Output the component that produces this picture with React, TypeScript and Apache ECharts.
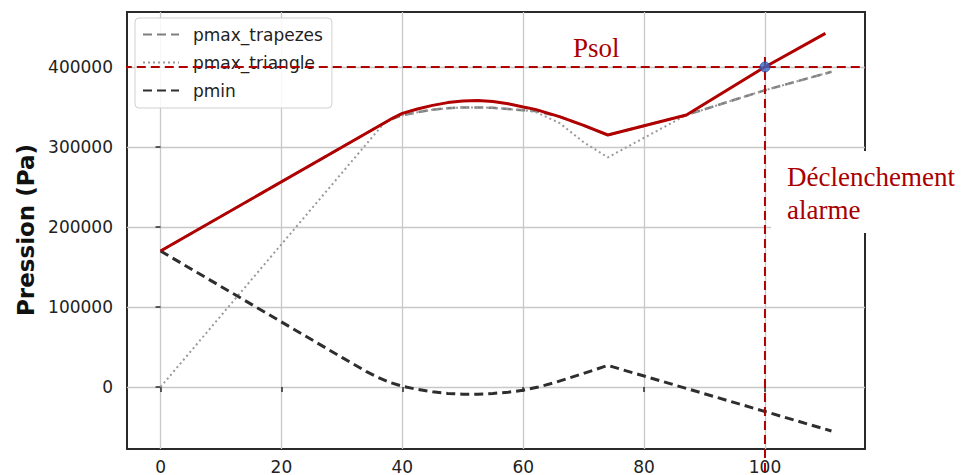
import React, { useEffect, useRef } from "react";
import * as echarts from "echarts";

// ---- data ----
const xTicks = [0, 20, 40, 60, 80, 100];
const yTicks = [0, 100000, 200000, 300000, 400000];

const xAlarm = [0, 37, 38.5, 40, 42.5, 45, 47.5, 50, 52.5, 55, 57.5, 60, 62, 66, 70, 74, 87, 100, 110];
const pAlarm = [170000, 330000, 336500, 342000, 347500, 352000, 355500, 357500, 358000, 357000, 354000, 350000, 347000, 338000, 327000, 315000, 340000, 400000, 442000];

const xTrapezes = [0, 37, 38.5, 40, 42.5, 45, 47.5, 50, 52.5, 55, 57.5, 60, 62, 66, 70, 74, 87, 100, 111];
const pTrapezes = [170000, 330000, 335500, 339500, 343500, 346500, 348500, 349500, 349500, 349000, 347500, 346000, 345000, 338000, 327000, 315000, 340000, 371000, 394000];

const xTriangle = [0, 37, 38.5, 40, 42.5, 45, 47.5, 50, 52.5, 55, 57.5, 60, 62, 66, 70, 74, 87, 100, 111];
const pTriangle = [0, 330000, 335500, 339500, 343500, 346500, 348500, 349500, 349500, 349000, 347500, 346000, 344000, 330000, 306000, 287000, 340000, 371000, 394000];

const xMin = [0, 30, 34, 36, 38, 40, 42.5, 45, 47.5, 50, 52.5, 55, 57.5, 60, 62.5, 65, 67.5, 70, 72, 74, 111];
const pMin = [170000, 37000, 19500, 12000, 5500, 1000, -3000, -6000, -8000, -9000, -9000, -8000, -6500, -4000, 0, 5000, 11000, 17000, 22000, 27000, -55000];

const psol = 400000;
const xTrigger = 100;

const legendNames = ["pmax_trapezes", "pmax_triangle", "pmin"];

const zip = (xs: number[], ys: number[]) => xs.map((x, i) => [x, ys[i]]);

const X_MIN = -5.55;
const X_MAX = 116.55;
const Y_MIN = -77500;
const Y_MAX = 468750;

const RED = "#b00000";
const TXT_RED = "#a80000";

export default function App() {
  const ref = useRef<HTMLDivElement>(null);
  useEffect(() => {
    if (!ref.current) return;
    const chart = echarts.init(ref.current, undefined, { renderer: "svg" });
    const tickLabel = { fontFamily: "DejaVu Sans", fontSize: 17, color: "#222" };
    const option: any = {
      animation: false,
      backgroundColor: "#ffffff",
      grid: {
        left: 127,
        right: 98,
        top: 12,
        bottom: 26,
        show: true,
        borderColor: "#2a2a2a",
        borderWidth: 2,
        backgroundColor: "transparent",
      },
      xAxis: {
        type: "value",
        min: X_MIN,
        max: X_MAX,
        axisLine: { show: false },
        axisTick: { show: true, inside: false, length: 5, lineStyle: { color: "#2a2a2a", width: 1.5 }, customValues: xTicks },
        axisLabel: { ...tickLabel, margin: 9, customValues: xTicks, formatter: (v: number) => String(v) },
        splitLine: { show: true, lineStyle: { color: "#c8c8c8", width: 1.3 } },
      },
      yAxis: {
        type: "value",
        min: Y_MIN,
        max: Y_MAX,
        axisLine: { show: false },
        axisTick: { show: true, inside: false, length: 5, lineStyle: { color: "#2a2a2a", width: 1.5 }, customValues: yTicks },
        axisLabel: { ...tickLabel, margin: 14, customValues: yTicks, formatter: (v: number) => String(v) },
        splitLine: { show: true, lineStyle: { color: "#c8c8c8", width: 1.3 } },
      },
      legend: {
        data: legendNames,
        orient: "vertical",
        left: 135,
        top: 18,
        itemWidth: 36,
        itemHeight: 14,
        itemGap: 11,
        padding: [8, 9, 9, 7],
        backgroundColor: "rgba(255,255,255,0.85)",
        borderColor: "#d0d0d0",
        borderWidth: 1,
        borderRadius: 4,
        itemStyle: { color: "rgba(0,0,0,0)", borderColor: "rgba(0,0,0,0)", borderWidth: 0, opacity: 0 },
        textStyle: { fontFamily: "DejaVu Sans", fontSize: 17, color: "#222", padding: [0, 0, 0, 9] },
      },
      series: [
        {
          name: "pmax_trapezes",
          type: "line",
          symbol: "none",
          data: zip(xTrapezes, pTrapezes),
          lineStyle: { color: "#7f7f7f", width: 2.5, type: [9, 5] },
          itemStyle: { color: "#7f7f7f" },
          z: 2,
        },
        {
          name: "pmax_triangle",
          type: "line",
          symbol: "none",
          data: zip(xTriangle, pTriangle),
          lineStyle: { color: "#9a9a9a", width: 2, type: [2, 3] },
          itemStyle: { color: "#9a9a9a" },
          z: 2,
        },
        {
          name: "pmin",
          type: "line",
          symbol: "none",
          data: zip(xMin, pMin),
          lineStyle: { color: "#2e2e2e", width: 3, type: [9, 5] },
          itemStyle: { color: "#2e2e2e" },
          z: 2,
        },
        {
          name: "alarme",
          type: "line",
          symbol: "none",
          data: zip(xAlarm, pAlarm),
          lineStyle: { color: RED, width: 3 },
          itemStyle: { color: RED },
          z: 3,
        },
        {
          name: "Psol",
          type: "line",
          symbol: "none",
          clip: false,
          data: [
            [X_MIN - 0.7, psol],
            [X_MAX, psol],
          ],
          lineStyle: { color: RED, width: 2, type: [9, 5] },
          z: 5,
        },
        {
          name: "trigger",
          type: "line",
          symbol: "none",
          clip: false,
          data: [
            [xTrigger, 412500],
            [xTrigger, -112000],
          ],
          lineStyle: { color: RED, width: 2, type: [9, 5] },
          z: 5,
        },
        {
          name: "point",
          type: "scatter",
          symbolSize: 10,
          data: [[xTrigger, psol]],
          itemStyle: { color: "#3a66c4", borderColor: "#25479a", borderWidth: 1 },
          z: 6,
        },
      ],
      graphic: [
        {
          type: "rect",
          shape: { x: 771, y: 151, width: 200, height: 82 },
          style: { fill: "#ffffff" },
          z: 100,
        },
        {
          type: "text",
          x: 573,
          y: 48,
          style: { text: "Psol", fill: TXT_RED, font: "27px 'Liberation Serif'", verticalAlign: "middle", align: "left" },
          z: 101,
        },
        {
          type: "text",
          x: 787,
          y: 177,
          style: { text: "Déclenchement", fill: TXT_RED, font: "27px 'Liberation Serif'", verticalAlign: "middle", align: "left" },
          z: 101,
        },
        {
          type: "text",
          x: 787,
          y: 210,
          style: { text: "alarme", fill: TXT_RED, font: "27px 'Liberation Serif'", verticalAlign: "middle", align: "left" },
          z: 101,
        },
        {
          type: "text",
          x: 26,
          y: 230,
          rotation: Math.PI / 2,
          style: { text: "Pression (Pa)", fill: "#111", font: "bold 23px 'DejaVu Sans'", verticalAlign: "middle", align: "center" },
          z: 101,
        },
      ],
    };
    chart.setOption(option);
    return () => chart.dispose();
  }, []);
  return <div ref={ref} style={{ width: 963, height: 475, position: "absolute", left: 0, top: 0 }} />;
}
